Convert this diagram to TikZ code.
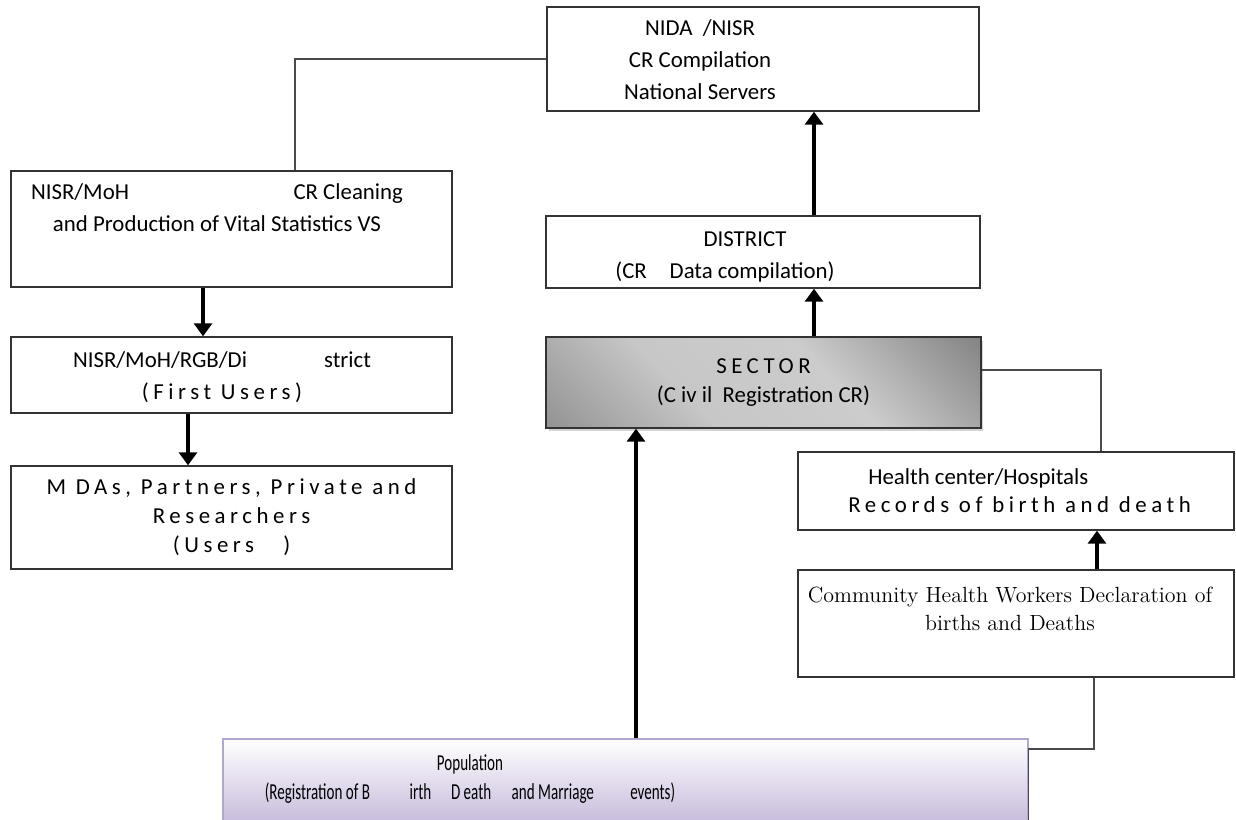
\documentclass[tikz,border=0pt]{standalone}
\usepackage{fontspec}
\usepackage{graphicx}
\usepackage{tikz}
\usetikzlibrary{arrows.meta}
\usetikzlibrary{shadows}

\newfontfamily\calib{Carlito}
\newfontfamily\calibsp[LetterSpace=20]{Carlito}

\definecolor{boxline}{HTML}{333333}
\definecolor{linkgray}{HTML}{4A4A4A}
\definecolor{popedge}{HTML}{B4A6D2}
\definecolor{popbottom}{HTML}{C2B5D8}

\pgfdeclareverticalshading{sectorshade}{100bp}{color(0bp)=(black!55);
  color(38bp)=(black!22); color(60bp)=(black!20); color(100bp)=(black!65)}

\begin{document}
\begin{tikzpicture}[x=0.02cm, y=-0.02cm,
    box/.style={draw=boxline, line width=0.8pt, fill=white,
      inner sep=0pt},
    txt/.style={align=center, inner sep=0pt,
      font=\calib\fontsize{13}{18.2}\selectfont},
    flow/.style={line width=2.2pt, black,
      -{Triangle[width=0.36cm, length=0.26cm]}},
    link/.style={draw=linkgray, line width=0.9pt}]
    \path [use as bounding box]
      (0, 0) rectangle (1236, 820);
    \clip (0, 0) rectangle (1236, 820);

    % national level
    \node[box, minimum width=8.64cm, minimum height=2.08cm]
      (nida) at (763, 59) {};
    \node[txt] (nidatxt) at (700, 60)
      {NIDA\ \ /NISR\\CR Compilation\\National Servers};

    % left column: users
    \node[box, minimum width=8.82cm, minimum height=2.32cm]
      (nisr) at (231.5, 229) {};
    \node[txt] (nisrtxt) at (217, 208)
      {\makebox[7.44cm]{NISR/MoH\hfill CR Cleaning}\\
       and Production of Vital Statistics VS};
    \node[box, minimum width=8.82cm, minimum height=1.52cm]
      (rgb) at (231.5, 375) {};
    \node[txt] (rgbtxt) at (222, 377)
      {\makebox[5.96cm]{NISR/MoH/RGB/Di\hfill strict}\\
       {\calibsp (First Users)}};
    \node[box, minimum width=8.82cm, minimum height=2.06cm,
      txt, font=\calibsp\fontsize{13}{16.5}\selectfont]
      (mdas) at (231.5, 517.5)
      {M DAs, Partners, Private and\\Researchers\\(Users\ \ \ )};

    % middle column
    \node[box, minimum width=8.68cm, minimum height=1.44cm]
      (district) at (763, 252) {};
    \node[txt] (districttxt) at (725, 256.5)
      {\hspace*{0.8cm}DISTRICT\\(CR\quad Data compilation)};
    \node[box, minimum width=8.7cm, minimum height=1.82cm,
      shading=sectorshade, shading angle=-45,
      drop shadow={shadow xshift=0.05cm, shadow yshift=-0.07cm,
        opacity=0.35},
      txt, font=\calib\fontsize{13}{16.5}\selectfont]
      (sector) at (763.5, 382.5)
      {{\calibsp SECTOR}\\(C iv il\ \ Registration CR)};

    % right column
    \node[box, minimum width=8.72cm, minimum height=1.56cm]
      (health) at (1016, 491) {};
    \node[txt, align=left, anchor=west,
      font=\calib\fontsize{13}{16}\selectfont] (healthtxt) at (848, 491)
      {\hspace*{0.4cm}Health center/Hospitals\\
       {\calibsp Records of birth and death}};
    \node[box, minimum width=8.72cm, minimum height=2.14cm]
      (chw) at (1016, 623.5) {};
    \node[align=center, inner sep=0pt,
      font=\fontsize{12.5}{16}\selectfont] (chwtxt) at (1010, 609)
      {Community Health Workers Declaration of\\births and Deaths};

    % population
    \node[draw=popedge, line width=0.8pt, top color=white,
      bottom color=popbottom, inner sep=0pt,
      minimum width=16.1cm, minimum height=1.82cm]
      (popul) at (625.5, 784.5) {};
    \node[txt, font=\calib\fontsize{13}{16.5}\selectfont]
      (poptxt) at (470, 779.5)
      {\scalebox{0.66}[1]{Population}\\
       \scalebox{0.66}[1]{(Registration of B\hspace{1.2cm}irth\hspace{0.6cm}D
       eath\hspace{0.62cm}and Marriage\hspace{1.1cm}events)}};

    % connectors
    \draw[link] (nida.west) -| ([xshift=1.27cm]nisr.north);
    \draw[flow] ([xshift=1.02cm]district.north)
      -- ([xshift=1.02cm]district.north |- nida.south);
    \draw[flow] ([xshift=1.01cm]sector.north)
      -- ([xshift=1.01cm]sector.north |- district.south);
    \draw[flow] ([xshift=-0.57cm]nisr.south)
      -- ([xshift=-0.57cm]nisr.south |- rgb.north);
    \draw[flow] ([xshift=-0.87cm]rgb.south)
      -- ([xshift=-0.87cm]rgb.south |- mdas.north);
    \draw[flow] ([xshift=0.21cm]popul.north)
      -- ([xshift=0.21cm]popul.north |- sector.south);
    \draw[link] ([yshift=0.25cm]sector.east)
      -| ([xshift=1.7cm]health.north);
    \draw[flow] ([xshift=1.62cm]chw.north)
      -- ([xshift=1.62cm]chw.north |- health.south);
    \draw[link] ([xshift=1.56cm]chw.south)
      |- ([yshift=0.71cm]popul.east) -- (popul.south east);

  \end{tikzpicture}
\end{document}
